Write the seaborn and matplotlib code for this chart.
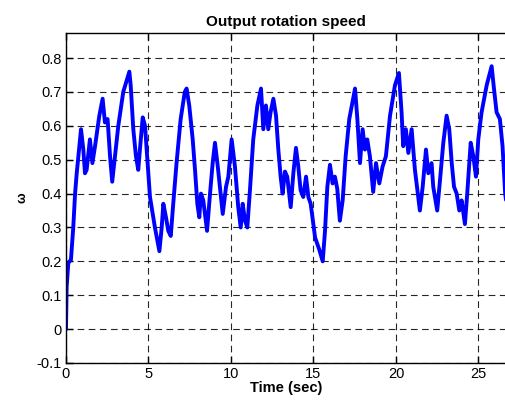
import matplotlib
matplotlib.use("Agg")
import matplotlib.pyplot as plt
import seaborn as sns
import pandas as pd

time_sec = [0, 0.04, 0.14, 0.3, 0.44, 0.55, 0.65, 0.75, 0.91, 1.05, 1.15, 1.25, 1.45, 1.6, 1.76,
            2.02, 2.22, 2.36, 2.52, 2.67, 2.8, 2.97, 3.17, 3.47, 3.84, 3.92, 4.08, 4.24, 4.38, 4.48,
            4.65, 4.79, 4.93, 5.09, 5.39, 5.66, 5.8, 5.9, 6.06, 6.2, 6.35, 6.5, 6.7, 6.95, 7.2,
            7.31, 7.47, 7.68, 7.82, 7.96, 8.08, 8.18, 8.32, 8.42, 8.55, 8.73, 8.89, 9.03, 9.2,
            9.5, 9.7, 9.84, 10.04, 10.24, 10.44, 10.59, 10.71, 10.85, 10.99, 11.15, 11.35, 11.6,
            11.82, 11.96, 12.12, 12.26, 12.4, 12.57, 12.73, 12.87, 13.01, 13.13, 13.27, 13.41,
            13.62, 13.78, 13.94, 14.08, 14.22, 14.38, 14.55, 14.69, 14.83, 15.1, 15.35, 15.56,
            15.7, 15.84, 16.0, 16.16, 16.3, 16.44, 16.6, 16.77, 16.95, 17.17, 17.52, 17.66, 17.82,
            17.98, 18.12, 18.26, 18.42, 18.62, 18.79, 18.99, 19.19, 19.39, 19.64, 19.94, 20.18,
            20.34, 20.44, 20.6, 20.75, 20.95, 21.15, 21.45, 21.62, 21.82, 21.96, 22.16, 22.26,
            22.5, 22.67, 22.87, 23.07, 23.23, 23.38, 23.52, 23.68, 23.84, 23.98, 24.18, 24.32,
            24.53, 24.69, 24.85, 24.99, 25.19, 25.5, 25.8, 25.94, 26.1, 26.3, 26.46, 26.62, 26.7]
omega = [0, 0.125, 0.195, 0.205, 0.30, 0.40, 0.46, 0.51, 0.59, 0.53, 0.46, 0.47, 0.56, 0.49, 0.54,
         0.63, 0.68, 0.61, 0.62, 0.51, 0.435, 0.51, 0.60, 0.70, 0.76, 0.72, 0.59, 0.51, 0.47, 0.53,
         0.625, 0.60, 0.50, 0.39, 0.30, 0.23, 0.30, 0.37, 0.33, 0.29, 0.275, 0.37, 0.49, 0.62, 0.70,
         0.71, 0.66, 0.56, 0.47, 0.37, 0.33, 0.40, 0.38, 0.34, 0.29, 0.40, 0.49, 0.55, 0.48,
         0.34, 0.42, 0.45, 0.56, 0.48, 0.36, 0.30, 0.37, 0.32, 0.30, 0.41, 0.56, 0.66,
         0.71, 0.59, 0.66, 0.59, 0.64, 0.68, 0.63, 0.53, 0.45, 0.40, 0.465, 0.45,
         0.36, 0.46, 0.535, 0.48, 0.41, 0.39, 0.45, 0.39, 0.37, 0.27, 0.235, 0.20,
         0.29, 0.42, 0.485, 0.43, 0.45, 0.415, 0.32, 0.38, 0.51, 0.62, 0.71, 0.62, 0.49,
         0.59, 0.53, 0.56, 0.51, 0.405, 0.49, 0.43, 0.48, 0.51, 0.63, 0.72, 0.756,
         0.64, 0.54, 0.59, 0.52, 0.59, 0.47, 0.35, 0.42, 0.53, 0.46, 0.49, 0.42,
         0.35, 0.44, 0.55, 0.63, 0.59, 0.49, 0.42, 0.40, 0.35, 0.38, 0.31, 0.40,
         0.55, 0.51, 0.45, 0.56, 0.64, 0.72, 0.776, 0.71, 0.64, 0.62, 0.54, 0.40, 0.37]

x_ticks = [0, 5, 10, 15, 20, 25]
y_ticks = [-0.1, 0, 0.1, 0.2, 0.3, 0.4, 0.5, 0.6, 0.7, 0.8]
y_tick_labels = ["-0.1", "0", "0.1", "0.2", "0.3", "0.4", "0.5", "0.6", "0.7", "0.8"]

df = pd.DataFrame({"t": time_sec, "w": omega})

sns.set_style("white")
plt.rcParams['font.family'] = ['Liberation Sans', 'DejaVu Sans']
plt.rcParams['text.color'] = 'black'
plt.rcParams['axes.labelcolor'] = 'black'
plt.rcParams['xtick.color'] = 'black'
plt.rcParams['ytick.color'] = 'black'

fig = plt.figure(figsize=(5.06, 4.03), dpi=100)
ax = fig.add_axes([66 / 506, 1 - 363 / 403, 1 - 66 / 506, (363 - 33) / 403])

sns.lineplot(data=df, x="t", y="w", ax=ax, color="#0000FF", linewidth=2.8)

ax.set_xlim(0, 26.67)
ax.set_ylim(-0.1, 0.874)
ax.set_xticks(x_ticks)
ax.set_xticklabels([str(v) for v in x_ticks], fontsize=10.5)
ax.set_yticks(y_ticks)
ax.set_yticklabels(y_tick_labels, fontsize=10.5)

ax.grid(True, color="black", linestyle=(0, (6, 4)), linewidth=0.8, alpha=0.85)
ax.set_axisbelow(True)

for side in ["left", "bottom", "top"]:
    ax.spines[side].set_visible(True)
    ax.spines[side].set_color("black")
    ax.spines[side].set_linewidth(1.0)
ax.spines["right"].set_visible(False)

ax.tick_params(axis="both", direction="in", length=5, width=1, color="black",
               labelcolor="black", top=True, bottom=True, left=True, right=False, pad=3)

ax.set_title("Output rotation speed", fontsize=11, fontweight="bold", pad=5, color="black")
ax.set_xlabel("Time (sec)", fontsize=10.5, fontweight="bold", labelpad=0, color="black")
ax.set_ylabel("ω", fontsize=9, fontweight="bold", labelpad=6, color="black")

fig.savefig("out.png", dpi=100)
